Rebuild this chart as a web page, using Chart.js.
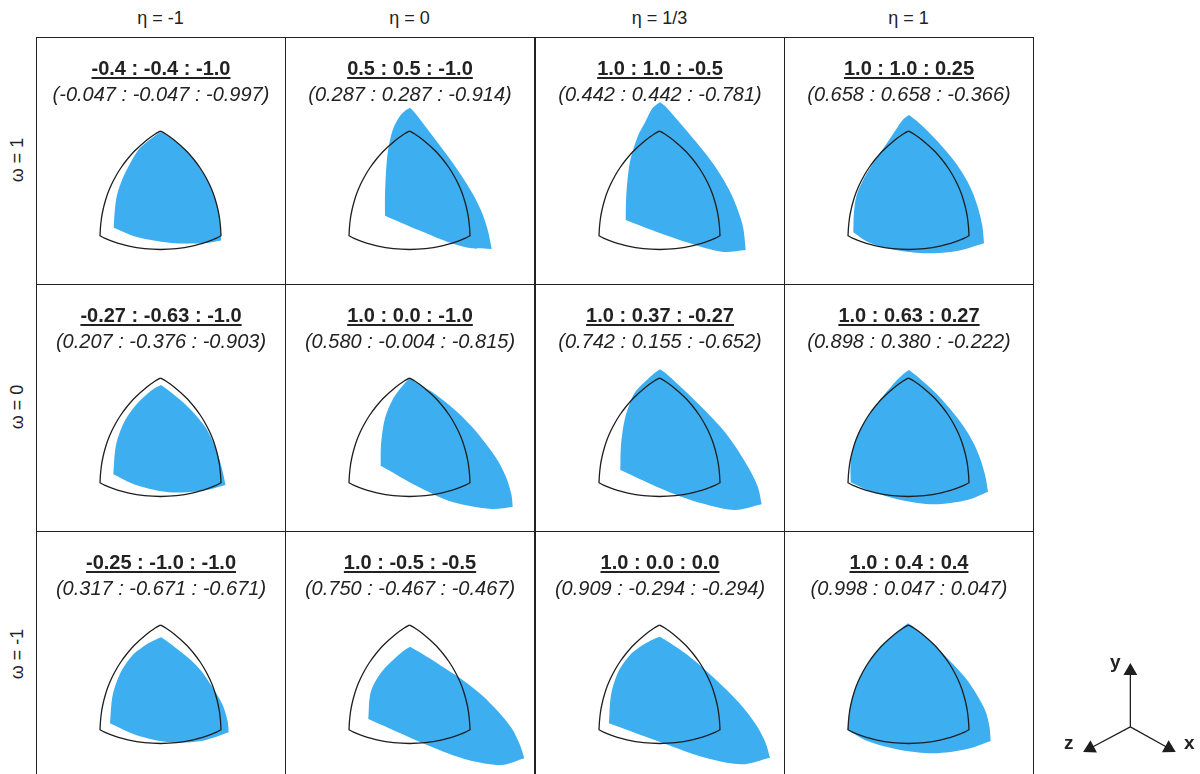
<!DOCTYPE html>
<html>
<head>
<meta charset="utf-8">
<script src="https://cdn.jsdelivr.net/npm/chart.js@4.4.0/dist/chart.umd.min.js"></script>
<style>
  body { margin: 0; background: #fff; font-family: "Liberation Sans", Arial, sans-serif; color: #222; }
  #fig { position: relative; width: 1200px; height: 774px; overflow: hidden; }
  .panel { position: absolute; width: 250px; height: 248px; box-sizing: border-box; border: 1px solid #222; }
  .panel canvas { position: absolute; left: 0; top: 0; }
  .ratio, .norm { position: absolute; left: 0; width: 100%; text-align: center; font-size: 20px; line-height: 24px; white-space: nowrap; }
  .ratio { top: 18px; font-weight: bold; text-decoration: underline; text-underline-offset: 2px; }
  .norm { top: 44px; font-style: italic; }
  .colhead { position: absolute; top: 6px; width: 249px; text-align: center; font-size: 18px; line-height: 24px; }
  .rowhead { position: absolute; left: -43px; width: 120px; text-align: center; font-size: 18px; line-height: 24px; transform: rotate(-90deg); }
  .axlab { position: absolute; font-size: 19px; font-weight: bold; line-height: 20px; }
</style>
</head>
<body>
<div id="fig"></div>
<script>
// column / row headings
const etaLabels = ["η = -1", "η = 0", "η = 1/3", "η = 1"];
const omegaLabels = ["ω = 1", "ω = 0", "ω = -1"];

// ratio line (bold) and normalised direction (italic), row by row
const ratioLabels = [
  "-0.4 : -0.4 : -1.0", "0.5 : 0.5 : -1.0", "1.0 : 1.0 : -0.5", "1.0 : 1.0 : 0.25",
  "-0.27 : -0.63 : -1.0", "1.0 : 0.0 : -1.0", "1.0 : 0.37 : -0.27", "1.0 : 0.63 : 0.27",
  "-0.25 : -1.0 : -1.0", "1.0 : -0.5 : -0.5", "1.0 : 0.0 : 0.0", "1.0 : 0.4 : 0.4"
];
const normLabels = [
  "(-0.047 : -0.047 : -0.997)", "(0.287 : 0.287 : -0.914)", "(0.442 : 0.442 : -0.781)", "(0.658 : 0.658 : -0.366)",
  "(0.207 : -0.376 : -0.903)", "(0.580 : -0.004 : -0.815)", "(0.742 : 0.155 : -0.652)", "(0.898 : 0.380 : -0.222)",
  "(0.317 : -0.671 : -0.671)", "(0.750 : -0.467 : -0.467)", "(0.909 : -0.294 : -0.294)", "(0.998 : 0.047 : 0.047)"
];

// reference outline (same in every panel), three edges corner to corner
const outlineEdges = [
  [[124.5, 94], [129.8, 97], [138.1, 103], [149.9, 113.5], [158.3, 123], [164.2, 131], [169.1, 139], [173.4, 147.3],
   [177.1, 156], [179.7, 164], [181.9, 172.5], [183.5, 181], [184.5, 190], [185, 198.7]],
  [[185, 198.7], [180.5, 201.2], [171, 204.9], [156, 209.2], [140.5, 211.7], [124.5, 212.5], [108.5, 211.7],
   [93, 209.2], [78, 204.9], [68.5, 201.2], [64, 198.7]],
  [[64, 198.7], [64.5, 190], [65.5, 181], [67.1, 172.5], [69.3, 164], [71.9, 156], [75.6, 147.3], [79.9, 139],
   [84.8, 131], [90.7, 123], [99.1, 113.5], [110.9, 103], [119.2, 97], [124.5, 94]]
];

// blue shapes, edges: right, bottom, left
const shapeR1C1 = [
  [[124.5, 95], [129.8, 97.6], [138.1, 103.4], [149.9, 113.8], [158.3, 123.2], [164.2, 131.2], [169.1, 139.2],
   [173.4, 147.5], [177.1, 156.2], [179.7, 164.2], [181.9, 172.7], [183.5, 181.2], [184.5, 190.5], [185.2, 203.5]],
  [[185.2, 203.5], [166.7, 206.3], [133.3, 205.7], [100, 199.7], [77.7, 190.7]],
  [[77.7, 190.7], [78.7, 174.7], [81, 158], [86.7, 141.3], [95, 124.7], [103, 112], [111.7, 104.2], [119.5, 98.3], [124.5, 95]]
];
const shapeR1C2 = [
  [[125, 70.7], [130, 76], [140, 89], [153, 106], [166.7, 124.5], [179, 142.5], [189.5, 160], [197.5, 177], [203, 194], [206.7, 212]],
  [[206.7, 212], [186.7, 211.3], [166.7, 206.3], [133.3, 193], [100, 178.7]],
  [[100, 178.7], [100, 158], [101.7, 124.7], [104, 108], [108.3, 91.3], [115, 79], [120.5, 73.5], [125, 70.7]]
];
const shapeR1C3 = [
  [[125, 65.3], [131, 70], [146.7, 88], [162, 106], [176.7, 124.7], [187.5, 141], [196.7, 158], [203.5, 175], [208.3, 191.3], [210.7, 213]],
  [[210.7, 213], [186.7, 214.7], [150, 204.7], [116.7, 193], [90.7, 183]],
  [[90.7, 183], [91.3, 158], [95, 124.7], [103.3, 98], [110, 85.5], [116.5, 72.5], [121, 68], [125, 65.3]]
];
const shapeR1C4 = [
  [[125, 78], [131, 82.5], [140, 90.5], [153.3, 104], [166.7, 119.5], [178.5, 136], [188, 154], [194.5, 172.5], [198.5, 190], [200, 206.3]],
  [[200, 206.3], [173.3, 214], [140, 216.3], [106.7, 212], [83.3, 204.7], [69.3, 195.3]],
  [[69.3, 195.3], [70, 174.7], [72.7, 158], [80, 141.3], [90, 124.7], [101.7, 108], [112, 92.5], [119.5, 82], [125, 78]]
];
const shapeR2C1 = [
  [[125, 101], [132, 106], [145, 116.5], [156.7, 127.7], [170, 144], [178.3, 161], [183.5, 176], [187, 189], [189.5, 201]],
  [[189.5, 201], [166.7, 206.7], [133.3, 208.3], [100, 201], [77.3, 190.3]],
  [[77.3, 190.3], [80, 161], [88.3, 137.7], [100, 121], [110, 111], [119, 104], [125, 101]]
];
const shapeR2C2 = [
  [[124.5, 94], [131, 98.5], [150, 110], [170, 126], [186.7, 142.5], [201, 160], [213, 177], [221.5, 194.3], [226.5, 211], [227.7, 222.7]],
  [[227.7, 222.7], [206.7, 225], [166.7, 217.7], [133.3, 202.7], [95.7, 181.7]],
  [[95.7, 181.7], [96, 161], [100, 134.3], [108.3, 114.3], [118.3, 101], [124.5, 94]]
];
const shapeR2C3 = [
  [[125, 85.3], [131, 89.5], [153.3, 110], [170, 126.5], [186.7, 144.3], [199, 160.5], [210, 177.7], [217.5, 191], [223.3, 204.3], [226.7, 220.3]],
  [[226.7, 220.3], [200, 226], [166.7, 219.3], [133.3, 207.7], [85.3, 186]],
  [[85.3, 186], [86, 161], [90, 134.3], [98.3, 111], [104.5, 103], [110, 97.7], [119, 89.5], [125, 85.3]]
];
const shapeR2C4 = [
  [[125, 86], [131, 90.5], [142, 100], [153.3, 110.5], [167, 126], [180, 143], [190, 160], [197, 177], [201.5, 193], [204, 207.7]],
  [[204, 207.7], [183.3, 216], [150, 220.3], [116.7, 216], [83.3, 206], [66.7, 198.3]],
  [[66.7, 198.3], [66.7, 177.7], [70, 161], [76.7, 144.3], [87.3, 127.7], [100, 111], [113, 96], [120, 89.5], [125, 86]]
];
const shapeR3C1 = [
  [[125, 106.3], [132, 111], [145, 121], [156.7, 130.7], [166.5, 141.5], [175, 154], [186.7, 174], [191.7, 190.7], [192.7, 201.3]],
  [[192.7, 201.3], [166.7, 209.7], [133.3, 211.3], [100, 204], [74, 192.3]],
  [[74, 192.3], [76.7, 164], [85, 140.7], [96.7, 124], [106, 116.5], [113.3, 111.8], [120, 108.5], [125, 106.3]]
];
const shapeR3C2 = [
  [[125, 115.7], [132, 119.7], [143.3, 126.5], [160, 137.3], [180, 150.7], [196.7, 164], [213.3, 180.7], [226.7, 197.3], [235, 214], [239.3, 227.3]],
  [[239.3, 227.3], [216.7, 234], [183.3, 229], [150, 217.3], [83.3, 188]],
  [[83.3, 188], [85, 164], [90, 151], [99, 138], [110, 127.3], [119, 119.5], [125, 115.7]]
];
const shapeR3C3 = [
  [[125, 105.7], [132, 110], [145, 118.5], [160, 130], [178, 146], [196.7, 164], [211, 180], [223.3, 197.3], [231, 213], [235, 226.7]],
  [[235, 226.7], [206.7, 233.3], [166.7, 225.7], [133.3, 214], [74, 192.3]],
  [[74, 192.3], [76, 164], [83.3, 140.7], [95, 124], [104, 116.5], [111.7, 111.8], [120, 107.5], [125, 105.7]]
];
const shapeR3C4 = [
  [[124, 92.3], [129.5, 96], [139, 103.5], [150, 114], [166, 130], [181.7, 147.3], [193, 164], [201.7, 180.7], [205.5, 196], [206.7, 210]],
  [[206.7, 210], [183.3, 218], [150, 222.3], [116.7, 219], [83.3, 210], [63.5, 199]],
  [[63.5, 199], [64.3, 190], [65.3, 181], [67, 172.5], [69.2, 164], [71.8, 156], [75.5, 147.3], [79.8, 139], [84.7, 131],
   [90.6, 123], [99, 113.5], [110.8, 103], [118.6, 96.3], [124, 92.3]]
];
const panelShapes = [
  shapeR1C1, shapeR1C2, shapeR1C3, shapeR1C4,
  shapeR2C1, shapeR2C2, shapeR2C3, shapeR2C4,
  shapeR3C1, shapeR3C2, shapeR3C3, shapeR3C4
];

// axis triad: origin then tip for each arrow
const triadY = [[0, 0], [0, 63]];
const triadX = [[0, 0], [43, -24]];
const triadZ = [[0, 0], [-45, -24]];

const BLUE = "#3daef0";
const INK = "#1e1e1e";

// joins edges; shared corner points stay doubled so the spline keeps them sharp
function toPoints(edges) {
  return edges.flat().map(([x, y]) => ({ x: x, y: y }));
}

const fig = document.getElementById("fig");

function addText(cls, text, style) {
  const d = document.createElement("div");
  d.className = cls;
  d.textContent = text;
  Object.assign(d.style, style);
  fig.appendChild(d);
  return d;
}

etaLabels.forEach((t, c) => {
  addText("colhead", t, { left: Math.round(36 + c * 249.3) + "px" });
});
omegaLabels.forEach((t, r) => {
  addText("rowhead", t, { top: (37 + r * 247 + 123 - 12) + "px" });
});

panelShapes.forEach((shape, i) => {
  const r = Math.floor(i / 4), c = i % 4;
  const panel = document.createElement("div");
  panel.className = "panel";
  panel.style.left = Math.round(36 + c * 249.3) + "px";
  panel.style.top = (37 + r * 247) + "px";
  fig.appendChild(panel);

  const cv = document.createElement("canvas");
  cv.width = 248;
  cv.height = 246;
  panel.appendChild(cv);

  const ratio = document.createElement("div");
  ratio.className = "ratio";
  ratio.textContent = ratioLabels[i];
  panel.appendChild(ratio);
  const norm = document.createElement("div");
  norm.className = "norm";
  norm.textContent = normLabels[i];
  panel.appendChild(norm);

  new Chart(cv, {
    type: "scatter",
    data: {
      datasets: [
        {
          data: toPoints(outlineEdges),
          showLine: true,
          borderColor: INK,
          borderWidth: 1.3,
          pointRadius: 0,
          tension: 0.3,
          fill: false,
          order: 0
        },
        {
          data: toPoints(shape),
          showLine: true,
          borderColor: "rgba(0,0,0,0)",
          borderWidth: 0,
          backgroundColor: BLUE,
          pointRadius: 0,
          tension: 0.3,
          fill: "shape",
          order: 1
        }
      ]
    },
    options: {
      responsive: false,
      animation: false,
      events: [],
      layout: { padding: 0 },
      plugins: { legend: { display: false }, tooltip: { enabled: false } },
      scales: {
        x: { type: "linear", min: 1, max: 249, display: false },
        y: { type: "linear", min: 1, max: 247, reverse: true, display: false }
      }
    }
  });
});

// axis triad bottom right
const tcv = document.createElement("canvas");
tcv.width = 150;
tcv.height = 144;
Object.assign(tcv.style, { position: "absolute", left: "1050px", top: "630px" });
fig.appendChild(tcv);

function arrow(pts, rot) {
  return {
    data: pts.map(([x, y]) => ({ x: x, y: y })),
    showLine: true,
    borderColor: INK,
    borderWidth: 1.3,
    pointStyle: "triangle",
    pointRadius: [0, 8],
    pointRotation: [0, rot],
    pointBackgroundColor: INK,
    pointBorderColor: INK,
    pointBorderWidth: 0
  };
}

new Chart(tcv, {
  type: "scatter",
  data: { datasets: [arrow(triadY, 0), arrow(triadX, 119), arrow(triadZ, -118)] },
  options: {
    responsive: false,
    animation: false,
    events: [],
    layout: { padding: 0 },
    plugins: { legend: { display: false }, tooltip: { enabled: false } },
    scales: {
      x: { type: "linear", min: -81, max: 69, display: false },
      y: { type: "linear", min: -44, max: 100, display: false }
    }
  }
});

addText("axlab", "y", { left: "1110px", top: "652px" });
addText("axlab", "z", { left: "1064px", top: "733px" });
addText("axlab", "x", { left: "1184px", top: "733px" });
</script>
</body>
</html>
